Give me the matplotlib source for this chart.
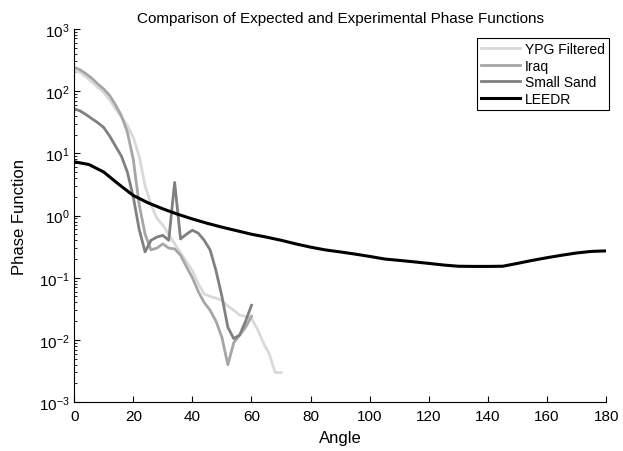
import numpy as np
import matplotlib
matplotlib.use('Agg')
import matplotlib.pyplot as plt
from matplotlib.ticker import NullFormatter

plt.rcParams['font.family'] = ['Liberation Sans', 'DejaVu Sans']
plt.rcParams['mathtext.fontset'] = 'custom'
plt.rcParams['mathtext.rm'] = 'Liberation Sans'
plt.rcParams['mathtext.it'] = 'Liberation Sans'

# angles in degrees
ypg_angle = np.arange(0, 71, 2)
ypg_phase = [210, 200, 170, 140, 115, 95, 72, 52, 38, 28, 18, 9, 3, 1.5, 0.9, 0.7,
             0.5, 0.35, 0.25, 0.18, 0.13, 0.08, 0.055, 0.05, 0.047, 0.043, 0.035,
             0.03, 0.025, 0.024, 0.022, 0.015, 0.009, 0.006, 0.003, 0.003]

iraq_angle = np.arange(0, 61, 2)
iraq_phase = [240, 220, 190, 160, 130, 108, 85, 60, 40, 22, 8, 1.5, 0.5, 0.28, 0.3,
              0.35, 0.3, 0.29, 0.23, 0.15, 0.1, 0.06, 0.04, 0.03, 0.02, 0.011,
              0.004, 0.009, 0.012, 0.016, 0.024]

sand_angle = np.arange(0, 61, 2)
sand_phase = [52, 48, 42, 36, 31, 26, 19, 13, 9, 5, 2, 0.6, 0.26, 0.4, 0.45, 0.48,
              0.4, 3.4, 0.42, 0.5, 0.58, 0.52, 0.4, 0.28, 0.13, 0.05, 0.016,
              0.0105, 0.012, 0.02, 0.036]

leedr_angle = np.arange(0, 181, 5)
leedr_phase = [7.3, 6.6, 5.0, 3.2, 2.1, 1.6, 1.28, 1.05, 0.88, 0.75, 0.65, 0.57, 0.50,
               0.45, 0.40, 0.35, 0.31, 0.28, 0.26, 0.24, 0.22, 0.20, 0.19, 0.18,
               0.17, 0.16, 0.153, 0.152, 0.152, 0.153, 0.17, 0.19, 0.21, 0.23,
               0.25, 0.265, 0.27]

fig = plt.figure(figsize=(6.23, 4.52), dpi=100)
ax = fig.add_axes([0.119, 0.108, 0.854, 0.826])

ax.semilogy(ypg_angle, ypg_phase, color='#d9d9d9', lw=2, label='YPG Filtered')
ax.semilogy(iraq_angle, iraq_phase, color='#a6a6a6', lw=2, label='Iraq')
ax.semilogy(sand_angle, sand_phase, color='#808080', lw=2, label='Small Sand')
ax.semilogy(leedr_angle, leedr_phase, color='black', lw=2.2, label='LEEDR')

ax.set_xlim(0, 180)
ax.set_ylim(1e-3, 1e3)
ax.set_xticks(np.arange(0, 181, 20))
ax.yaxis.set_minor_formatter(NullFormatter())
ax.spines['top'].set_visible(False)
ax.spines['right'].set_visible(False)
ax.tick_params(which='both', direction='in', labelsize=11)
ax.tick_params(axis='x', pad=5)
ax.tick_params(which='major', length=4)
ax.tick_params(which='minor', length=2)

ax.set_title('Comparison of Expected and Experimental Phase Functions', fontsize=11, pad=5)
ax.set_xlabel('Angle', fontsize=12, labelpad=5)
ax.set_ylabel('Phase Function', fontsize=12, labelpad=8)

leg = ax.legend(loc='upper right', bbox_to_anchor=(0.988, 0.93),
                bbox_transform=fig.transFigure, fontsize=10, fancybox=False,
                edgecolor='black', framealpha=1, handlelength=2.8,
                borderpad=0.3, labelspacing=0.2, handletextpad=0.3)
leg.get_frame().set_linewidth(0.8)

fig.savefig('out.png', dpi=100)
